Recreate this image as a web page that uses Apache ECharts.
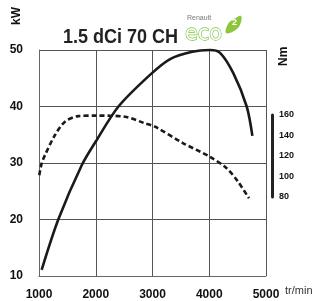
<!DOCTYPE html>
<html>
<head>
<meta charset="utf-8">
<script src="https://cdn.jsdelivr.net/npm/echarts@6/dist/echarts.min.js"></script>
<style>
  html, body { margin: 0; padding: 0; background: #fff; }
  #chart { width: 320px; height: 301px; }
</style>
</head>
<body>
<div id="chart"></div>
<script>
// puissance (kW) selon régime
var rpmPower = [1047, 1340, 1753, 2000, 2400, 2956, 3310, 3700, 4010, 4190, 4424, 4660, 4760];
var kwValues = [11.1, 20, 29.6, 33.8, 40, 45.6, 48.4, 49.7, 50, 49.5, 45.9, 40, 34.8];
// couple (Nm) selon régime
var rpmTorque = [1005, 1047, 1106, 1282, 1458, 1693, 2000, 2515, 2868, 3045, 3543, 4010, 4307, 4507, 4700];
var nmValues = [100, 111.5, 119.5, 138.8, 151.6, 157, 157.5, 156.4, 150, 146.8, 130.8, 117.9, 106.7, 93.8, 77.8];
// graduations
var rpmTicks = [1000, 2000, 3000, 4000, 5000];
var kwTicks = [10, 20, 30, 40, 50];
var nmTicks = [80, 100, 120, 140, 160];

var font = "'Liberation Sans', Arial, sans-serif";

function pairs(xs, ys) {
  var out = [];
  for (var i = 0; i < xs.length; i++) {
    out.push([xs[i], ys[i]]);
  }
  return out;
}

var chart = echarts.init(document.getElementById("chart"));

var option = {
  animation: false,
  grid: [
    { left: 39, right: 54, top: 50, bottom: 25 },
    { left: 272, width: 1, top: 115, height: 82 }
  ],
  xAxis: [{
    gridIndex: 0,
    type: "value",
    min: rpmTicks[0],
    max: rpmTicks[rpmTicks.length - 1],
    interval: 1000,
    axisLine: { show: true, lineStyle: { color: "#666", width: 1 } },
    axisTick: { show: false },
    splitLine: { show: true, lineStyle: { color: "#555", width: 1 } },
    axisLabel: {
      margin: 13,
      color: "#111",
      fontFamily: font,
      fontWeight: "bold",
      fontSize: 12,
      showMinLabel: true,
      showMaxLabel: true,
      formatter: function (v) { return String(v); }
    }
  }, {
    gridIndex: 1,
    type: "value",
    show: false
  }],
  yAxis: [{
    gridIndex: 0,
    type: "value",
    min: kwTicks[0],
    max: kwTicks[kwTicks.length - 1],
    interval: 10,
    axisLine: { show: true, lineStyle: { color: "#666", width: 1 } },
    axisTick: { show: false },
    splitLine: { show: true, lineStyle: { color: "#555", width: 1 } },
    axisLabel: {
      margin: 16,
      color: "#111",
      fontFamily: font,
      fontWeight: "bold",
      fontSize: 12,
      padding: [0, 0, 6, 0]
    }
  }, {
    // axe caché du couple sur la grille principale
    gridIndex: 0,
    type: "value",
    position: "right",
    min: 2.9,
    max: 220.7,
    show: false
  }, {
    // axe visible du couple
    gridIndex: 1,
    type: "value",
    position: "left",
    min: nmTicks[0],
    max: nmTicks[nmTicks.length - 1],
    interval: 20,
    axisLine: { show: true, lineStyle: { color: "#222", width: 3 } },
    axisTick: { show: false },
    splitLine: { show: false },
    axisLabel: {
      inside: true,
      margin: 7,
      color: "#111",
      fontFamily: font,
      fontWeight: "bold",
      fontSize: 9,
      padding: [0, 0, 5, 0]
    }
  }],
  series: [{
    name: "kW",
    type: "line",
    xAxisIndex: 0,
    yAxisIndex: 0,
    data: pairs(rpmPower, kwValues),
    smooth: 0.3,
    showSymbol: false,
    symbol: "none",
    clip: false,
    lineStyle: { color: "#1a1a1a", width: 2.6 }
  }, {
    name: "Nm",
    type: "line",
    xAxisIndex: 0,
    yAxisIndex: 1,
    data: pairs(rpmTorque, nmValues),
    smooth: 0.3,
    showSymbol: false,
    symbol: "none",
    lineStyle: { color: "#1a1a1a", width: 2.6, type: [5, 3] }
  }],
  graphic: [
    {
      type: "text", x: 63, y: 27, scaleX: 0.9,
      style: { text: "1.5 dCi 70 CH", font: "bold 20px " + font, fill: "#222" }
    },
    {
      type: "text", x: 11, y: 25, rotation: Math.PI / 2,
      style: { text: "kW", font: "bold 12px " + font, fill: "#111" }
    },
    {
      type: "text", x: 278, y: 66, rotation: Math.PI / 2,
      style: { text: "Nm", font: "bold 12px " + font, fill: "#111" }
    },
    {
      type: "text", x: 285, y: 285,
      style: { text: "tr/min", font: "11px " + font, fill: "#333" }
    },
    {
      type: "text", x: 187, y: 15,
      style: { text: "Renault", font: "7px " + font, fill: "#777" }
    },
    {
      type: "polygon",
      shape: { points: [[226, 33], [228, 24], [234, 19], [241, 16], [240, 25], [234, 31]], smooth: 0.4 },
      style: { fill: "#8cc63f" }
    },
    {
      type: "text", x: 185, y: 23, scaleX: 0.95,
      style: { text: "eco", font: "22px 'DejaVu Sans', sans-serif", fill: "#fff", stroke: "#7dc242", lineWidth: 1.3 }
    },
    {
      type: "text", x: 232, y: 18,
      style: { text: "2", font: "bold 9px " + font, fill: "#fff" }
    }
  ]
};

chart.setOption(option);
</script>
</body>
</html>
